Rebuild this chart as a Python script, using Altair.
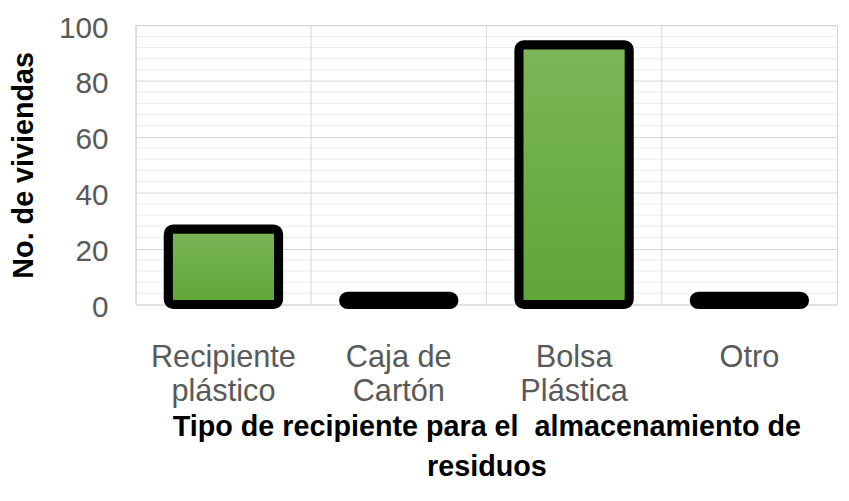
import altair as alt
import pandas as pd

categories = ["Recipiente\nplástico", "Caja de\nCartón", "Bolsa\nPlástica", "Otro"]
viviendas = [27, 3, 93, 3]
minor_ticks = [v for v in range(4, 100, 4) if v % 20 != 0]

df = pd.DataFrame({"cat": categories, "n": viviendas})
minor_df = pd.DataFrame({"v": minor_ticks})

FONT = "Liberation Sans"
PI = 0.37
W = 708
STEP = W / len(categories)

xscale = alt.Scale(domain=categories, paddingInner=PI, paddingOuter=PI / 2)
yscale = alt.Scale(domain=[0, 100])

minor = alt.Chart(minor_df).mark_rule(color="#ececec", strokeWidth=1).encode(
    y=alt.Y("v:Q", scale=yscale)
)

vlines = alt.Chart(df).mark_rule(
    color="#d9d9d9", strokeWidth=1, xOffset=-PI * STEP / 2
).encode(
    x=alt.X("cat:N", scale=xscale, bandPosition=0, sort=categories)
)

bars = alt.Chart(df).mark_bar(
    stroke="black",
    strokeWidth=9,
    cornerRadius=5,
    color=alt.Gradient(
        gradient="linear",
        x1=0, y1=0, x2=0, y2=1,
        stops=[alt.GradientStop(color="#7cb658", offset=0),
               alt.GradientStop(color="#5ea636", offset=1)],
    ),
).encode(
    x=alt.X(
        "cat:N",
        scale=xscale,
        sort=categories,
        axis=alt.Axis(
            title=["Tipo de recipiente para el\u00a0 almacenamiento de", "residuos"],
            labelAngle=0,
            labelAlign="center",
            labelBaseline="top",
            labelExpr="split(datum.label, '\\n')",
            labelFont=FONT,
            labelFontSize=31,
            labelLineHeight=34,
            labelColor="#595959",
            labelPadding=39,
            ticks=False,
            domain=False,
            titleFont=FONT,
            titleFontSize=29,
            titleFontWeight="bold",
            titleColor="black",
            titleLineHeight=41,
            titlePadding=6,
        ),
    ),
    y=alt.Y(
        "n:Q",
        scale=yscale,
        axis=alt.Axis(
            title="No. de viviendas",
            values=[0, 20, 40, 60, 80, 100],
            labelFont=FONT,
            labelFontSize=30,
            labelColor="#595959",
            labelPadding=28,
            labelOffset=3,
            ticks=False,
            domain=False,
            gridColor="#d6d6d6",
            titleFont=FONT,
            titleFontSize=29,
            titleFontWeight="bold",
            titleColor="black",
            titlePadding=20,
        ),
    ),
)

chart = alt.layer(minor, vlines, bars).properties(
    width=W,
    height=282,
    autosize=alt.AutoSizeParams(type="none"),
    padding={"left": 129, "top": 15, "right": 4, "bottom": 190},
).configure_view(stroke="#d6d6d6", strokeWidth=1)

chart.save("out.html", embed_options={"renderer": "svg", "actions": False})
